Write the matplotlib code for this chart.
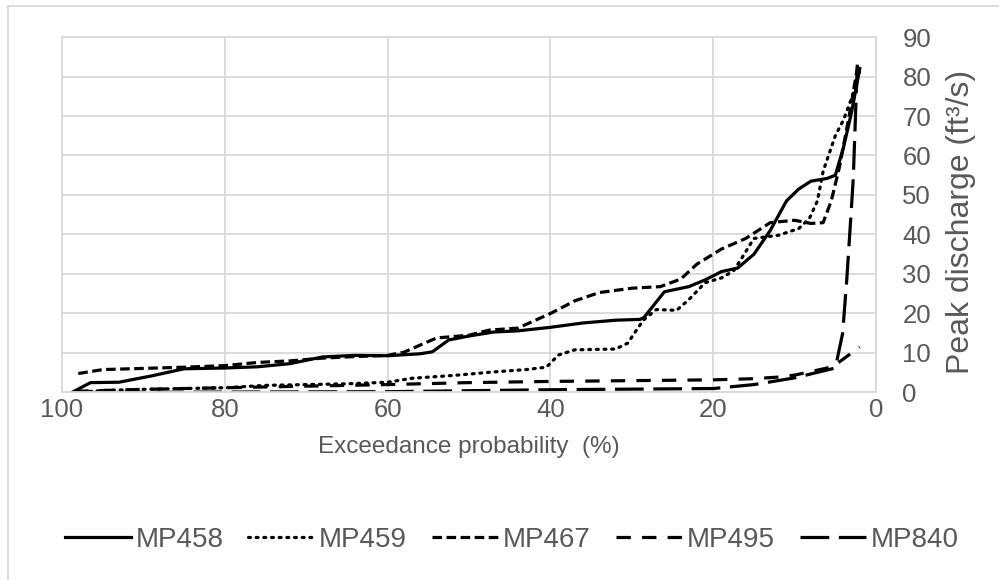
import matplotlib
matplotlib.use("Agg")
import matplotlib.pyplot as plt
from matplotlib.lines import Line2D

# Exceedance probability (%) / peak discharge (ft3/s)
mp458_x = [98.8, 96.5, 93, 89, 85, 80, 76, 72, 68, 64, 60, 56, 54.5, 52.5, 50, 47, 44, 40, 36, 32,
           29, 28.5, 26, 23, 21, 19, 17, 15, 13, 11, 9.5, 8, 6, 5, 4, 3, 2]
mp458_y = [0, 2.5, 2.6, 4.2, 6.0, 6.2, 6.5, 7.3, 9.0, 9.4, 9.3, 9.8, 10.3, 13.3, 14.3, 15.3, 15.6, 16.5, 17.6, 18.3,
           18.5, 19.0, 25.5, 26.8, 28.5, 30.6, 31.5, 35, 41, 48.5, 51.5, 53.5, 54.2, 55, 62, 71, 82]

mp459_x = [98.5, 95, 90, 85, 80, 75, 70, 65, 60, 57, 52, 47, 43, 40.5, 39, 37, 32, 30.5, 28.6, 27,
           24.5, 23, 21, 19, 17.5, 16.5, 15, 12, 9.5, 8.2, 7.2, 6.5, 5, 4, 3, 2]
mp459_y = [0, 0.5, 0.8, 1.0, 1.2, 1.8, 2.0, 2.2, 2.6, 3.6, 4.3, 5.2, 5.8, 6.4, 9.5, 10.8, 11.0, 12.5, 18.3, 21.0,
           20.8, 23.5, 27.8, 29, 30.8, 34, 39, 39.8, 41.5, 44, 48.5, 56, 65, 69, 74.5, 81.5]

mp467_x = [98, 95, 90, 85, 80, 76, 72, 68, 64, 60, 58, 56, 54, 50, 47.5, 44, 40, 37, 34, 30,
           26.5, 24, 22, 19, 16, 13, 10, 8, 6.5, 5.5, 4.5, 3.3, 2.2]
mp467_y = [4.8, 5.8, 6.1, 6.4, 6.8, 7.6, 8.0, 8.7, 9.1, 9.4, 10.2, 12.0, 13.8, 14.5, 15.8, 16.3, 20.0, 23.2, 25.3, 26.4,
           26.8, 28.7, 32.5, 36.3, 39.0, 43.0, 43.6, 42.8, 43.0, 48.5, 57, 70, 83.3]

mp495_x = [98.5, 90, 80, 70, 60, 50, 40, 30, 20, 15, 12, 10, 8, 6, 5, 4, 2]
mp495_y = [0.3, 0.8, 1.2, 1.6, 2.0, 2.5, 2.8, 3.0, 3.2, 3.5, 3.9, 4.4, 5.3, 6.2, 7.0, 8.5, 11.5]

mp840_x = [98, 80, 60, 40, 20, 15, 10, 7, 5, 4.1, 3.6, 3.2, 2.8, 2.3]
mp840_y = [0, 0.1, 0.2, 0.7, 1.0, 2.0, 3.7, 5.2, 6.2, 15, 28.4, 41, 54, 83]

series_names = ["MP458", "MP459", "MP467", "MP495", "MP840"]
x_ticks = [100, 80, 60, 40, 20, 0]
y_ticks = [0, 10, 20, 30, 40, 50, 60, 70, 80, 90]

TEXT_COLOR = "#595959"
GRID_COLOR = "#D9D9D9"
FONT = "Liberation Sans"
TICK_FS = 18.5
LABEL_FS = 17.5
YLABEL_FS = 23
LEGEND_FS = 20
LW = 2.3

styles = [
    dict(linestyle="-"),
    dict(linestyle=(0, (0.6, 1.8)), dash_capstyle="round"),
    dict(linestyle=(0, (3, 1.4))),
    dict(linestyle=(0, (4.5, 3.5))),
    dict(linestyle=(0, (9, 3))),
]

plt.rcParams["font.family"] = [FONT, "DejaVu Sans"]

fig = plt.figure(figsize=(9.99, 5.8), dpi=100)
ax = fig.add_axes([0.0621, 0.3233, 0.8148, 0.6129])

data = [(mp458_x, mp458_y), (mp459_x, mp459_y), (mp467_x, mp467_y),
        (mp495_x, mp495_y), (mp840_x, mp840_y)]
for (xs, ys), name, st in zip(data, series_names, styles):
    ax.plot(xs, ys, color="black", linewidth=LW, label=name, **st)

ax.set_xlim(100, 0)
ax.set_ylim(0, 90)
ax.set_xticks(x_ticks)
ax.set_yticks(y_ticks)
ax.yaxis.tick_right()
ax.grid(True, color=GRID_COLOR, linewidth=1.3)
ax.set_axisbelow(True)
for side, sp in ax.spines.items():
    sp.set_color(GRID_COLOR)
    sp.set_linewidth(1.3)
ax.tick_params(axis="both", length=0, labelsize=TICK_FS, labelcolor=TEXT_COLOR)
ax.tick_params(axis="x", pad=4)
ax.tick_params(axis="y", pad=19)

ax.set_xlabel("Exceedance probability  (%)", fontsize=LABEL_FS, color=TEXT_COLOR, labelpad=10)
fig.text(961 / 999, 1 - 222 / 580, "Peak discharge (ft³/s)", rotation=90,
         ha="center", va="center", fontsize=YLABEL_FS, color=TEXT_COLOR)

fig.legend(loc="center", bbox_to_anchor=(0.512, 0.069), ncol=5, frameon=False,
           fontsize=LEGEND_FS, labelcolor=TEXT_COLOR, handlelength=2.4,
           handletextpad=0.15, columnspacing=0.9)

# outer chart-area frame (only left and top edges are inside the picture)
fx = 8 / 999
fy = 1 - 6 / 580
fig.add_artist(Line2D([fx, fx], [0, fy], transform=fig.transFigure, color=GRID_COLOR, linewidth=1.3))
fig.add_artist(Line2D([fx, 1], [fy, fy], transform=fig.transFigure, color=GRID_COLOR, linewidth=1.3))

fig.savefig("out.png", dpi=100)
